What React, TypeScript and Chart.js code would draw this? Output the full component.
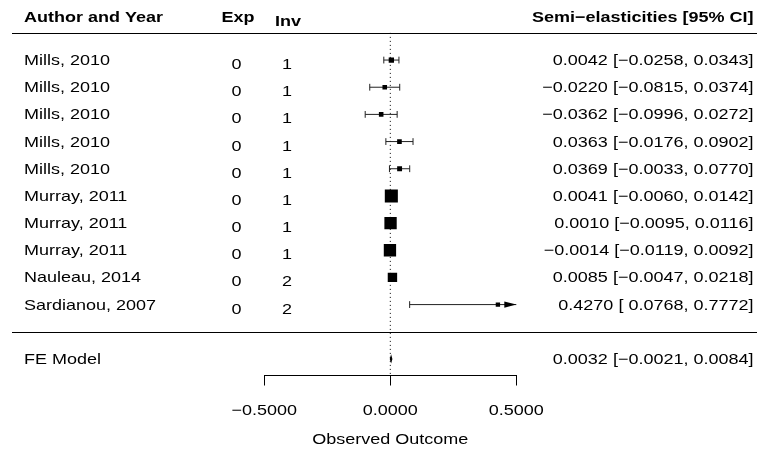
import React, { useEffect, useRef } from "react";
import { Chart, registerables } from "chart.js";

Chart.register(...registerables);

// ---------- data ----------
const authors = [
  "Mills, 2010",
  "Mills, 2010",
  "Mills, 2010",
  "Mills, 2010",
  "Mills, 2010",
  "Murray, 2011",
  "Murray, 2011",
  "Murray, 2011",
  "Nauleau, 2014",
  "Sardianou, 2007",
];
const expCol = ["0", "0", "0", "0", "0", "0", "0", "0", "0", "0"];
const invCol = ["1", "1", "1", "1", "1", "1", "1", "1", "2", "2"];
const estimates = [0.0042, -0.022, -0.0362, 0.0363, 0.0369, 0.0041, 0.001, -0.0014, 0.0085, 0.427];
const ciLower = [-0.0258, -0.0815, -0.0996, -0.0176, -0.0033, -0.006, -0.0095, -0.0119, -0.0047, 0.0768];
const ciUpper = [0.0343, 0.0374, 0.0272, 0.0902, 0.077, 0.0142, 0.0116, 0.0092, 0.0218, 0.7772];

const feLabel = "FE Model";
const feEstimate = 0.0032;
const feLower = -0.0021;
const feUpper = 0.0084;

const xTickValues = [-0.5, 0, 0.5];
const xAxisTitle = "Observed Outcome";
const headerAuthor = "Author and Year";
const headerExp = "Exp";
const headerInv = "Inv";
const headerRight = "Semi\u2212elasticities [95% CI]";

// ---------- helpers ----------
const k = authors.length;
const rows = authors.map((_, i) => k - i);
const feRow = -1;
const Y_MIN = -1.61;
const ROW_PX = 27.17;

const fmt = (v: number) => v.toFixed(4).replace("-", "\u2212");
const padCol = (vals: number[]) => {
  const s = vals.map(fmt);
  const w = Math.max(...s.map((t) => t.length));
  return s.map((t) => " ".repeat(w - t.length) + t);
};
const estStr = padCol([...estimates, feEstimate]);
const loStr = padCol([...ciLower, feLower]);
const hiStr = padCol([...ciUpper, feUpper]);
const rightText = estStr.map((e, i) => `${e} [${loStr[i]}, ${hiStr[i]}]`);

// square sizes from inverse-variance weights (as metafor does)
const weights = ciLower.map((lo, i) => {
  const se = (ciUpper[i] - lo) / (2 * 1.96);
  return 1 / (se * se);
});
const wMin = Math.min(...weights);
const wMax = Math.max(...weights);
const squareSide = weights.map((w) => 8.7 * (0.5 + (w - wMin) / (wMax - wMin)));

const FONT = "'Liberation Sans', Arial, Helvetica, sans-serif";
const STRETCH = 1.2;
const LINE = "#222222";

function stretchText(
  ctx: CanvasRenderingContext2D,
  text: string,
  x: number,
  y: number,
  align: CanvasTextAlign,
  bold = false
) {
  ctx.save();
  ctx.translate(x, y);
  ctx.scale(STRETCH, 1);
  ctx.font = `${bold ? "bold " : ""}15px ${FONT}`;
  ctx.textAlign = align;
  ctx.textBaseline = "alphabetic";
  ctx.fillStyle = "#000";
  ctx.fillText(text, 0, 0);
  ctx.restore();
}

const forestPlugin = {
  id: "forestExtras",
  afterLayout(chart: any) {
    // keep a fixed row height in pixels, whatever the chart area top is
    const ys = chart.scales.y;
    const area = chart.chartArea;
    ys.min = Y_MIN;
    ys.max = Y_MIN + (area.bottom - area.top) / ROW_PX;
    ys.configure();
  },
  afterDraw(chart: any) {
    const ctx: CanvasRenderingContext2D = chart.ctx;
    const xs = chart.scales.x;
    const ys = chart.scales.y;

    // horizontal rules
    ctx.save();
    ctx.strokeStyle = "#000";
    ctx.lineWidth = 1.2;
    [k + 1, 0].forEach((r) => {
      const y = Math.round(ys.getPixelForValue(r)) + 0.5;
      ctx.beginPath();
      ctx.moveTo(12, y);
      ctx.lineTo(757, y);
      ctx.stroke();
    });
    ctx.restore();

    // arrows for CIs beyond the axis limits
    ctx.save();
    ctx.fillStyle = "#000";
    rows.forEach((r, i) => {
      const y = ys.getPixelForValue(r);
      if (ciUpper[i] > xs.max) {
        const tip = xs.getPixelForValue(xs.max);
        ctx.beginPath();
        ctx.moveTo(tip, y);
        ctx.lineTo(tip - 12, y - 3.2);
        ctx.lineTo(tip - 12, y + 3.2);
        ctx.closePath();
        ctx.fill();
      }
      if (ciLower[i] < xs.min) {
        const tip = xs.getPixelForValue(xs.min);
        ctx.beginPath();
        ctx.moveTo(tip, y);
        ctx.lineTo(tip + 12, y - 3.2);
        ctx.lineTo(tip + 12, y + 3.2);
        ctx.closePath();
        ctx.fill();
      }
    });

    // FE diamond
    const fy = ys.getPixelForValue(feRow);
    const dh = ys.getPixelForValue(feRow) - ys.getPixelForValue(feRow + 0.17);
    ctx.beginPath();
    ctx.moveTo(xs.getPixelForValue(feLower), fy);
    ctx.lineTo(xs.getPixelForValue(feEstimate), fy - dh);
    ctx.lineTo(xs.getPixelForValue(feUpper), fy);
    ctx.lineTo(xs.getPixelForValue(feEstimate), fy + dh);
    ctx.closePath();
    ctx.fill();
    ctx.restore();

    // headers
    const hy = ys.getPixelForValue(k + 1.55);
    stretchText(ctx, headerAuthor, 24, hy + 4, "left", true);
    stretchText(ctx, headerExp, 238, hy + 4.4, "center", true);
    stretchText(ctx, headerInv, 288, hy + 7.8, "center", true);
    stretchText(ctx, headerRight, 753.5, hy + 4, "right", true);

    // study rows
    rows.forEach((r, i) => {
      const y = ys.getPixelForValue(r);
      stretchText(ctx, authors[i], 24, y + 5, "left");
      stretchText(ctx, expCol[i], 236.5, y + 9, "center");
      stretchText(ctx, invCol[i], 287, y + 9, "center");
      stretchText(ctx, rightText[i], 753.5, y + 5, "right");
    });

    // FE row
    stretchText(ctx, feLabel, 24, fy + 5, "left");
    stretchText(ctx, rightText[k], 753.5, fy + 5, "right");

    // x tick labels and title
    const axisY = xs.top;
    xs.ticks.forEach((t: any) => {
      stretchText(ctx, fmt(t.value), xs.getPixelForValue(t.value), axisY + 39, "center");
    });
    stretchText(ctx, xAxisTitle, (xs.left + xs.right) / 2, axisY + 68.5, "center");
  },
};

export default function App() {
  const canvasRef = useRef<HTMLCanvasElement | null>(null);

  useEffect(() => {
    const canvas = canvasRef.current;
    if (!canvas) return;

    const ciDatasets = rows.map((r, i) => ({
      type: "scatter" as const,
      data: [
        { x: ciLower[i], y: r },
        { x: ciUpper[i], y: r },
      ],
      showLine: true,
      borderColor: LINE,
      borderWidth: 1,
      pointStyle: "line" as const,
      pointRotation: 90,
      pointRadius: 3.4,
      pointBorderWidth: 1,
      pointBorderColor: LINE,
      order: 2,
    }));

    const chart = new Chart(canvas, {
      type: "scatter",
      data: {
        datasets: [
          {
            data: rows.map((r, i) => ({ x: estimates[i], y: r })),
            pointStyle: "rect",
            pointRadius: squareSide.map((s) => s / Math.SQRT2),
            backgroundColor: "#000",
            borderWidth: 0,
            pointBorderWidth: 0,
            order: 0,
          },
          ...ciDatasets,
          {
            data: [
              { x: 0, y: k + 1 },
              { x: 0, y: Y_MIN },
            ],
            showLine: true,
            borderColor: "#000",
            borderWidth: 1,
            borderDash: [1, 3],
            pointRadius: 0,
            order: 5,
          },
        ] as any,
      },
      options: {
        animation: false,
        responsive: false,
        devicePixelRatio: 1,
        events: [],
        layout: { autoPadding: false, padding: { left: 264.3, right: 248.7, top: 0, bottom: 70.5 } },
        plugins: {
          legend: { display: false },
          tooltip: { enabled: false },
          title: { display: false },
        },
        scales: {
          x: {
            type: "linear",
            min: -0.5,
            max: 0.5,
            afterBuildTicks: (scale: any) => {
              scale.ticks = xTickValues.map((v) => ({ value: v }));
            },
            ticks: { display: false },
            grid: {
              display: true,
              drawOnChartArea: false,
              drawTicks: true,
              tickLength: 10,
              color: "#000",
              lineWidth: 1,
            },
            border: { display: true, color: "#000", width: 1 },
            title: { display: false },
          },
          y: {
            type: "linear",
            display: false,
            min: Y_MIN,
            max: 12.21,
          },
        },
      },
      plugins: [forestPlugin],
    });

    return () => chart.destroy();
  }, []);

  return (
    <div style={{ position: "absolute", left: 0, top: 0, width: 765, height: 456, background: "#fff" }}>
      <canvas ref={canvasRef} width={765} height={456} style={{ display: "block" }} />
    </div>
  );
}
